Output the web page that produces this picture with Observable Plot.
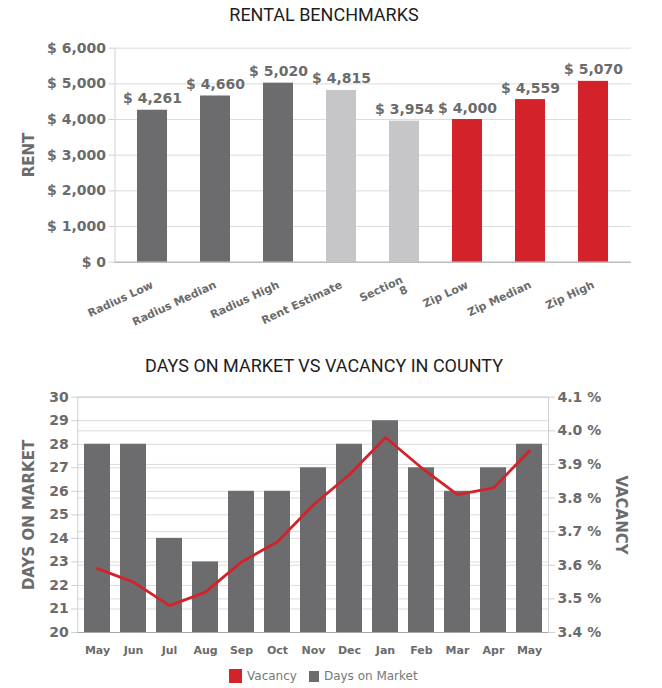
<!DOCTYPE html>
<html>
<head>
<meta charset="utf-8">
<script src="https://cdn.jsdelivr.net/npm/d3@7"></script>
<script src="https://cdn.jsdelivr.net/npm/@observablehq/plot@0.6"></script>
<style>
  html, body { margin: 0; padding: 0; background: #fff; }
  #root { position: relative; width: 662px; height: 688px; background: #fff; overflow: hidden; }
  .title { position: absolute; left: 0; width: 648px; text-align: center; font-family: Roboto, sans-serif; font-size: 18px; color: #1e1e1e; line-height: 20px; }
  .ytitle { position: absolute; font-family: "DejaVu Sans", sans-serif; font-weight: bold; font-size: 15px; color: #6b6b6b; white-space: nowrap; line-height: 18px; }
  .chart { position: absolute; left: 0; }
  .legend { position: absolute; top: 669px; left: 229px; display: flex; align-items: center; font-family: "DejaVu Sans", sans-serif; font-size: 12px; color: #777; }
  .sw { display: inline-block; margin-right: 5px; }
</style>
</head>
<body>
<div id="root">
  <div class="title" style="top:5px">RENTAL BENCHMARKS</div>
  <div class="ytitle" style="left:29px; top:155px; transform: translate(-50%,-50%) rotate(-90deg);">RENT</div>
  <div id="top" class="chart" style="top:30px"></div>
  <div class="title" style="top:356px">DAYS ON MARKET VS VACANCY IN COUNTY</div>
  <div class="ytitle" style="left:29px; top:515px; transform: translate(-50%,-50%) rotate(-90deg);">DAYS ON MARKET</div>
  <div class="ytitle" style="left:621px; top:515px; transform: translate(-50%,-50%) rotate(90deg);">VACANCY</div>
  <div id="bottom" class="chart" style="top:380px"></div>
  <div class="legend">
    <span class="sw" style="width:13px;height:14px;background:#d3222a"></span><span style="margin-right:12px">Vacancy</span>
    <span class="sw" style="width:10px;height:11px;background:#6c6c6f"></span><span>Days on Market</span>
  </div>
</div>
<script>
// ---- Rental benchmarks data ----
const rentCategories = ["Radius Low", "Radius Median", "Radius High", "Rent Estimate", "Section 8", "Zip Low", "Zip Median", "Zip High"];
const rentTickLabels = ["Radius Low", "Radius Median", "Radius High", "Rent Estimate", "Section\n8", "Zip Low", "Zip Median", "Zip High"];
const rentValues = [4261, 4660, 5020, 4815, 3954, 4000, 4559, 5070];
const rentGroups = ["Radius", "Radius", "Radius", "Estimate", "Estimate", "Zip", "Zip", "Zip"];
const rentTicks = [0, 1000, 2000, 3000, 4000, 5000, 6000];

// ---- Days on market vs vacancy data ----
const months = ["May", "Jun", "Jul", "Aug", "Sep", "Oct", "Nov", "Dec", "Jan", "Feb", "Mar", "Apr", "May"];
const daysOnMarket = [28, 28, 24, 23, 26, 26, 27, 28, 29, 27, 26, 27, 28];
const vacancyRate = [3.59, 3.55, 3.48, 3.52, 3.61, 3.67, 3.78, 3.87, 3.98, 3.89, 3.81, 3.83, 3.94];
const dayTicks = [20, 21, 22, 23, 24, 25, 26, 27, 28, 29, 30];
const vacancyTicks = [3.4, 3.5, 3.6, 3.7, 3.8, 3.9, 4.0, 4.1];

const GRAY = "#6b6b6b";
const fmt = d3.format(",");

const rentData = rentCategories.map((c, i) => ({category: c, value: rentValues[i], group: rentGroups[i]}));

const topChart = Plot.plot({
  width: 662, height: 310,
  marginTop: 17.7, marginBottom: 78.3, marginLeft: 114.5, marginRight: 31,
  style: {fontFamily: "DejaVu Sans", fontWeight: "bold", fontSize: "14px", background: "transparent", overflow: "visible"},
  x: {domain: rentCategories, paddingInner: 0.52, paddingOuter: 0.3},
  y: {domain: [0, 6000]},
  color: {domain: ["Radius", "Estimate", "Zip"], range: ["#6c6c6f", "#c6c6c8", "#d3222a"]},
  marks: [
    Plot.gridY(rentTicks, {stroke: "#dcdcdc", strokeOpacity: 1}),
    Plot.frame({anchor: "left", stroke: "#d0d0d0"}),
    Plot.barY(rentData, {x: "category", y: "value", fill: "group"}),
    Plot.ruleY([0], {stroke: "#a8a8a8"}),
    Plot.text(rentData, {x: "category", y: "value", text: d => "$ " + fmt(d.value), lineAnchor: "bottom", dy: -7, fill: GRAY, fontSize: 14, fontWeight: "bold"}),
    Plot.axisY(rentTicks, {tickFormat: d => "$ " + fmt(d), tickSize: 6, tickPadding: 3, stroke: "#cfcfcf", color: GRAY, fontSize: 14, label: null}),
    Plot.axisX({tickFormat: c => rentTickLabels[rentCategories.indexOf(c)], tickRotate: -25, tickSize: 0, tickPadding: 22, fontSize: 11, color: GRAY, label: null})
  ]
});
document.getElementById("top").appendChild(topChart);

const toDays = v => 20 + (v - 3.4) * (10 / 0.7);
const fromDays = d => 3.4 + (d - 20) * 0.07;
const domData = months.map((m, i) => ({i, month: m, days: daysOnMarket[i], vacancy: vacancyRate[i]}));

const bottomChart = Plot.plot({
  width: 662, height: 282,
  marginTop: 16.7, marginBottom: 30, marginLeft: 77.3, marginRight: 114,
  style: {fontFamily: "DejaVu Sans", fontWeight: "bold", fontSize: "14px", background: "transparent", overflow: "visible"},
  x: {domain: d3.range(months.length), paddingInner: 0.29, paddingOuter: 0.15},
  y: {domain: [20, 30]},
  marks: [
    Plot.gridY(dayTicks, {stroke: "#dcdcdc", strokeOpacity: 1}),
    Plot.gridY(vacancyTicks.map(toDays), {stroke: "#dcdcdc", strokeOpacity: 1}),
    Plot.frame({stroke: "#cfcfcf"}),
    Plot.barY(domData, {x: "i", y1: 20, y2: "days", fill: "#6c6c6f"}),
    Plot.ruleY([20], {stroke: "#a8a8a8"}),
    Plot.line(domData, {x: "i", y: d => toDays(d.vacancy), stroke: "#d3222a", strokeWidth: 2.8}),
    Plot.axisY(dayTicks, {anchor: "left", tickSize: 6, tickPadding: 3, stroke: "#cfcfcf", color: GRAY, fontSize: 14, label: null}),
    Plot.axisY(vacancyTicks.map(toDays), {anchor: "right", tickFormat: d => fromDays(d).toFixed(1) + " %", tickSize: 6, tickPadding: 3, stroke: "#cfcfcf", color: GRAY, fontSize: 14, label: null}),
    Plot.axisX({tickFormat: i => months[i], tickSize: 0, tickPadding: 14, fontSize: 11, color: GRAY, label: null})
  ]
});
document.getElementById("bottom").appendChild(bottomChart);
</script>
</body>
</html>
